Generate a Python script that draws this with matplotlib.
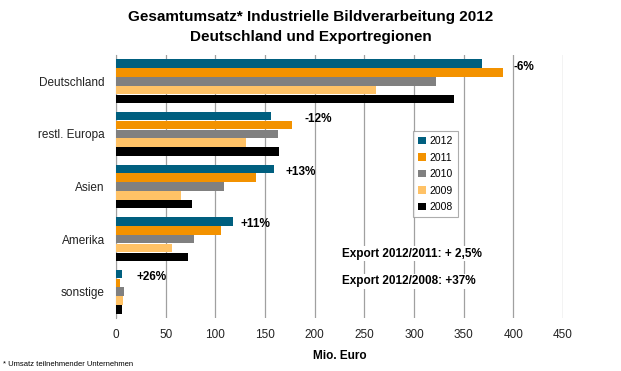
import numpy as np
import matplotlib
matplotlib.use('Agg')
import matplotlib.pyplot as plt

plt.rcParams['font.family'] = ['Liberation Sans', 'DejaVu Sans']

# data (Mio. Euro)
regions = ['Deutschland', 'restl. Europa', 'Asien', 'Amerika', 'sonstige']
years = ['2012', '2011', '2010', '2009', '2008']
v2012 = [368, 156, 159, 118, 6]
v2011 = [390, 177, 141, 106, 4]
v2010 = [322, 163, 109, 79, 8]
v2009 = [262, 131, 65, 56, 7]
v2008 = [340, 164, 77, 72, 6]
changes = ['-6%', '-12%', '+13%', '+11%', '+26%']
colors = ['#005f7f', '#f39200', '#808080', '#ffc266', '#000000']

series = [v2012, v2011, v2010, v2009, v2008]

fig = plt.figure(figsize=(6.21, 3.71), dpi=100)
ax = fig.add_axes([116/621, 1-318/371, (563-116)/621, (318-55)/371])

y = np.arange(len(regions))
h = 0.168
for i, vals in enumerate(series):
    ax.barh(y + (i - 2) * h, vals, height=h*0.96, color=colors[i], label=years[i], zorder=3)

ax.set_xlim(0, 450)
ax.set_ylim(len(regions) - 0.5, -0.5)
ax.set_xticks(np.arange(0, 451, 50))
ax.set_yticks(y)
ax.set_yticklabels(regions, fontsize=8.5)
ax.tick_params(axis='both', length=0, labelsize=8.5, colors='#222222')
ax.tick_params(axis='x', pad=8)
ax.tick_params(axis='y', pad=8)
ax.grid(axis='x', color='#a0a0a0', linewidth=0.9, zorder=0)
for s in ['top', 'right', 'bottom']:
    ax.spines[s].set_visible(False)
ax.spines['left'].set_color('#a0a0a0')

# percentage changes 2012/2011 next to each group
label_x = [400, 190, 171, 125, 21]
for i, t in enumerate(changes):
    ax.text(label_x[i], y[i] - 0.28, t, fontsize=8.5, fontweight='bold', va='center', ha='left', zorder=5)

ax.text(228, 3.28, 'Export 2012/2011: + 2,5%', fontsize=8.5, fontweight='bold', va='center',
        zorder=5, bbox=dict(facecolor='white', edgecolor='none', pad=1))
ax.text(228, 3.8, 'Export 2012/2008: +37%', fontsize=8.5, fontweight='bold', va='center',
        zorder=5, bbox=dict(facecolor='white', edgecolor='none', pad=1))

leg = ax.legend(loc='upper left', bbox_to_anchor=(413/621, 1-131/371), bbox_transform=fig.transFigure,
                fontsize=7.5, frameon=True, fancybox=False, edgecolor='#999999',
                handlelength=0.75, handleheight=0.75, handletextpad=0.3, labelspacing=0.62,
                borderpad=0.5, borderaxespad=0)
leg.get_frame().set_linewidth(0.8)
leg.set_zorder(6)

fig.text(0.5, 1-17/371, 'Gesamtumsatz* Industrielle Bildverarbeitung 2012', ha='center', va='center',
         fontsize=11, fontweight='bold')
fig.text(0.5, 1-37/371, 'Deutschland und Exportregionen', ha='center', va='center',
         fontsize=11, fontweight='bold')
fig.text(340/621, 1-356/371, 'Mio. Euro', ha='center', va='center', fontsize=8.5, fontweight='bold')
fig.text(3/621, 1-364/371, '* Umsatz teilnehmender Unternehmen', ha='left', va='center', fontsize=5.5)

fig.savefig('out.png', dpi=100)
